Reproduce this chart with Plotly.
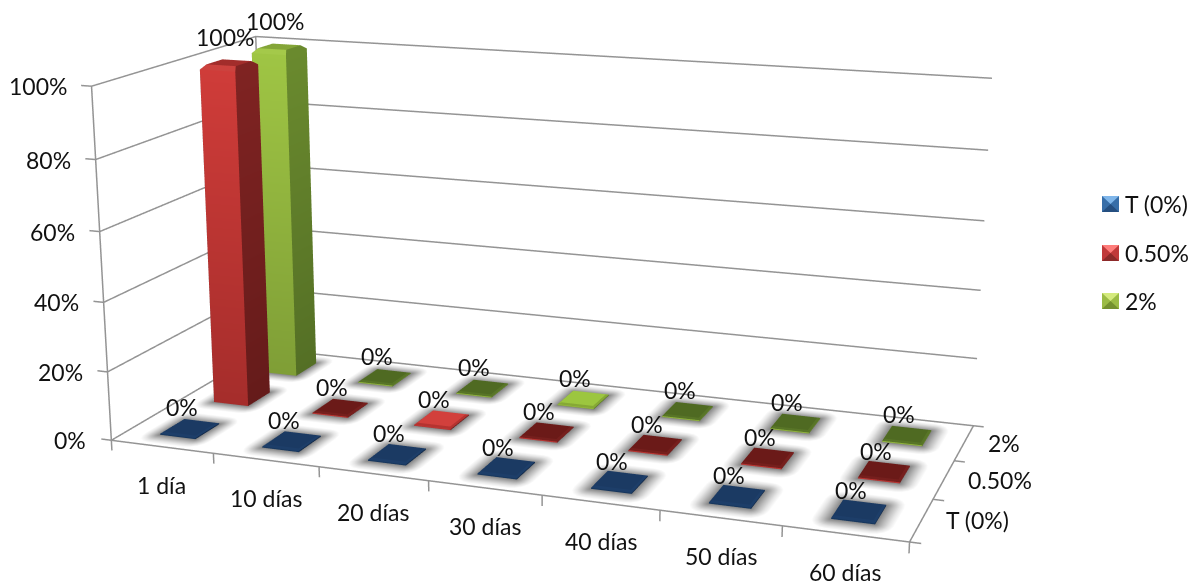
import numpy as np
import plotly.graph_objects as go

categories = ["1 día", "10 días", "20 días", "30 días", "40 días", "50 días", "60 días"]
series_names = ["T (0%)", "0.50%", "2%"]
t_values = [0, 0, 0, 0, 0, 0, 0]
low_values = [100, 0, 0, 0, 0, 0, 0]
high_values = [100, 0, 0, 0, 0, 0, 0]
z_ticks = [0, 20, 40, 60, 80, 100]
z_labels = ["0%", "20%", "40%", "60%", "80%", "100%"]

RX, RY, RZ = [-1.5, 7.5], [-1.5, 3.5], [-5, 110]
EYE = (1.748, -4.784, 1.284)
LOOK_AT = (0.023, -0.018, -0.095)
ASPECT_X, ASPECT_Y = 2.510, 1.373
CX, FOCAL = 553.0, 2188.0
FOVY = 2 * np.arctan(293.5 / FOCAL)

HALF_X, HALF_Y = 0.175, 0.22
TILE = 0.6
lit_tiles = {(1, 2), (2, 3)}
# shades per series: front top/bottom, side top/bottom, cap, bevel, tile cap, tile bevel, lit cap, lit bevel
shades = [
    dict(ft="#17375e", fb="#17375e", st="#122a4a", sb="#122a4a", cap="#1c3a63", bev="#244a7a", tcap="#1b3a63", tbev="#1d3e69", lcap="#1b3a63", lbev="#1d3e69"),
    dict(ft="#cf3c39", fb="#a52d2b", st="#7f2322", sb="#651b1a", cap="#a22d2b", bev="#cc423e", tcap="#6b1a18", tbev="#761f1d", lcap="#d2403c", lbev="#b53330"),
    dict(ft="#9fc544", fb="#7f9e36", st="#6a8a2e", sb="#546f25", cap="#84a538", bev="#a4c94a", tcap="#4f6a22", tbev="#587527", lcap="#9cc63f", lbev="#86a935"),
]
shadow_levels = [(0.0, "#858585"), (0.4, "#bdbdbd"), (0.72, "#e6e6e6"), (1.0, "#ffffff")]


class Mesh:
    def __init__(self):
        self.v, self.c, self.i, self.j, self.k = [], [], [], [], []

    def quad(self, corners, colours):
        n = len(self.v)
        self.v += corners
        self.c += colours
        self.i += [n, n]
        self.j += [n + 1, n + 2]
        self.k += [n + 2, n + 3]

    def trace(self):
        a = np.array(self.v)
        return go.Mesh3d(x=a[:, 0], y=a[:, 1], z=a[:, 2], i=self.i, j=self.j, k=self.k, vertexcolor=self.c,
                         lighting=dict(ambient=1, diffuse=0, specular=0, fresnel=0, roughness=1),
                         hoverinfo="skip", showlegend=False)


def add_shadow(m, cx, cy):
    # soft rounded halo on the floor, built as concentric rings around the footprint
    mx, my = 0.15, 0.22
    corners = [(cx - HALF_X, cy - HALF_Y, np.pi), (cx + HALF_X, cy - HALF_Y, 1.5 * np.pi),
               (cx + HALF_X, cy + HALF_Y, 0.0), (cx - HALF_X, cy + HALF_Y, 0.5 * np.pi)]
    rings = []
    for t, colour in shadow_levels:
        ring = []
        for px, py, start in corners:
            for step in range(5):
                ang = start + step * np.pi / 8
                ring.append((px + t * mx * np.cos(ang), py + t * my * np.sin(ang)))
        rings.append((ring, colour))
    for (inner, c0), (outer, c1) in zip(rings, rings[1:]):
        n = len(inner)
        for q in range(n):
            a, b = q, (q + 1) % n
            m.quad([[*inner[a], 0], [*inner[b], 0], [*outer[b], 0], [*outer[a], 0]], [c0, c0, c1, c1])


def add_bar(m, cx, cy, value, s, lit):
    h = max(value, TILE)
    tall = value > TILE
    sh = shades[s]
    cap = sh["cap"] if tall else (sh["lcap"] if lit else sh["tcap"])
    bev = sh["bev"] if tall else (sh["lbev"] if lit else sh["tbev"])
    x0, x1, y0, y1 = cx - HALF_X, cx + HALF_X, cy - HALF_Y, cy + HALF_Y
    b, by = (0.03, 0.07) if tall else (0.02, 0.04)
    hz = h - (1.2 if tall else 0.3)
    m.quad([[x0, y0, 0], [x1, y0, 0], [x1, y0, hz], [x0, y0, hz]], [sh["fb"], sh["fb"], sh["ft"], sh["ft"]])
    m.quad([[x1, y0, 0], [x1, y1, 0], [x1, y1, hz], [x1, y0, hz]], [sh["sb"], sh["sb"], sh["st"], sh["st"]])
    m.quad([[x0, y1, 0], [x0, y0, 0], [x0, y0, hz], [x0, y1, hz]], [sh["sb"], sh["sb"], sh["st"], sh["st"]])
    tx0, tx1, ty0, ty1 = x0 + b, x1 - b, y0 + by, y1 - by
    m.quad([[x0, y0, hz], [x1, y0, hz], [tx1, ty0, h], [tx0, ty0, h]], [bev] * 4)
    m.quad([[x1, y0, hz], [x1, y1, hz], [tx1, ty1, h], [tx1, ty0, h]], [sh["st"] if tall else bev] * 4)
    m.quad([[x1, y1, hz], [x0, y1, hz], [tx0, ty1, h], [tx1, ty1, h]], [cap] * 4)
    m.quad([[x0, y1, hz], [x0, y0, hz], [tx0, ty0, h], [tx0, ty1, h]], [cap] * 4)
    m.quad([[tx0, ty0, h], [tx1, ty0, h], [tx1, ty1, h], [tx0, ty1, h]], [cap] * 4)


fig = go.Figure()

# frame: walls, floor edges and tick marks
gx, gy, gz = [], [], []
for v in z_ticks:
    gx += [-.6, -.5, -.5, 6.5, None]; gy += [-.5, -.5, 2.5, 2.5, None]; gz += [v, v, v, v, None]
for xe, ye in [(-.5, -.5), (-.5, 2.5)]:
    gx += [xe, xe, None]; gy += [ye, ye, None]; gz += [0, 100, None]
gx += [-.5, 6.5, 6.5, None]; gy += [-.5, -.5, 2.5, None]; gz += [0, 0, 0, None]
for e in range(len(categories) + 1):
    gx += [e - .5, e - .5, None]; gy += [-.5, -.5, None]; gz += [0, -3, None]
for e in range(len(series_names) + 1):
    gx += [6.5, 6.59, None]; gy += [e - .5, e - .5, None]; gz += [0, 0, None]
fig.add_trace(go.Scatter3d(x=gx, y=gy, z=gz, mode="lines", line=dict(color="#949494", width=3),
                           hoverinfo="skip", showlegend=False))

shadow = Mesh()
series_values = [t_values, low_values, high_values]
for s, vals in enumerate(series_values):
    for c_i in range(len(vals)):
        add_shadow(shadow, c_i, s)
fig.add_trace(shadow.trace())
for s, vals in enumerate(series_values):
    m = Mesh()
    for c_i, v in enumerate(vals):
        add_bar(m, c_i, s, v, s, (s, c_i) in lit_tiles)
    fig.add_trace(m.trace())

font = dict(family="Lato", size=23, color="#111111")
notes = []
for s, vals in enumerate(series_values):
    for c_i, v in enumerate(vals):
        notes.append(dict(x=c_i, y=s, z=v, text=f"{v}%", showarrow=False, font=font,
                          xshift=-4 if v else -8, yshift=26 if v else 22))
for c_i, name in enumerate(categories):
    notes.append(dict(x=c_i, y=-.5, z=0, text=name, showarrow=False, font=font, yshift=-38))
for s, name in enumerate(series_names):
    notes.append(dict(x=6.5, y=s, z=0, text=name, showarrow=False, font=font, xanchor="left", xshift=22))
for v, name in zip(z_ticks, z_labels):
    notes.append(dict(x=-.5, y=-.5, z=v, text=name, showarrow=False, font=font, xanchor="right", xshift=-23))

# legend keys with a bevelled look, laid out in paper fractions
W, H = 1193.0, 587.0
key_colours = [("#376ea8", "#7fb6ea", "#254f80"), ("#c0393a", "#ff7d7b", "#8c2a2a"), ("#9bbb45", "#d4ea7d", "#74902f")]
key_rows = [204, 253, 301]
KEY_L, KEY_R, KEY_H = 1102, 1119, 8
shapes, paper_notes = [], []
for (base, light, deep), row, name in zip(key_colours, key_rows, series_names):
    t, b = 1 - (row - KEY_H) / H, 1 - (row + KEY_H) / H
    l, r = KEY_L / W, KEY_R / W
    mx, my = (l + r) / 2, (t + b) / 2
    shapes.append(dict(type="rect", xref="paper", yref="paper", x0=l, x1=r, y0=b, y1=t, fillcolor=base, line_width=0))
    shapes.append(dict(type="path", xref="paper", yref="paper", path=f"M{l},{t}L{r},{t}L{mx},{my}Z", fillcolor=light, line_width=0))
    shapes.append(dict(type="path", xref="paper", yref="paper", path=f"M{l},{b}L{r},{b}L{mx},{my}Z", fillcolor=deep, line_width=0))
    paper_notes.append(dict(text=name, x=1123 / W, y=1 - row / H, xref="paper", yref="paper", showarrow=False,
                            xanchor="left", font=font))

ax_hidden = dict(visible=False, showgrid=False, zeroline=False, showspikes=False)
domain_w = 2 * CX / W
fig.update_layout(
    width=1193, height=587, margin=dict(l=0, r=0, t=0, b=0), paper_bgcolor="white", showlegend=False,
    shapes=shapes, annotations=paper_notes,
    scene=dict(domain=dict(x=[0, domain_w], y=[0, 1]), aspectmode="manual",
               aspectratio=dict(x=ASPECT_X, y=ASPECT_Y, z=1),
               camera=dict(eye=dict(zip("xyz", EYE)), center=dict(zip("xyz", LOOK_AT)), up=dict(x=0, y=0, z=1)),
               xaxis=dict(ax_hidden, range=RX), yaxis=dict(ax_hidden, range=RY), zaxis=dict(ax_hidden, range=RZ),
               annotations=notes),
)
# narrow the scene's field of view once the camera exists
narrow = ("var g=document.getElementById('{plot_id}')._fullLayout.scene._scene.glplot;"
          "g.fovy=%f;g.redraw();" % FOVY)
fig.write_html("out.html", post_script=narrow)
